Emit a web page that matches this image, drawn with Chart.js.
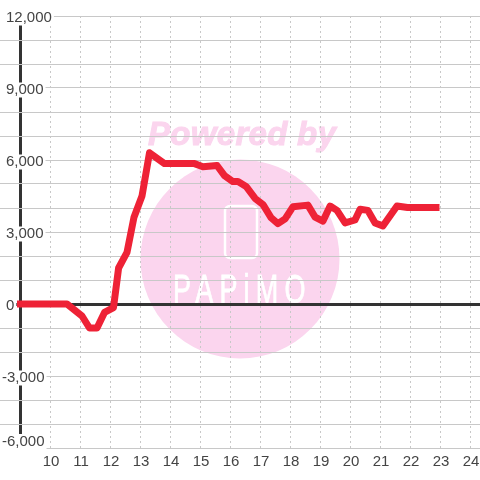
<!DOCTYPE html>
<html>
<head>
<meta charset="utf-8">
<style>html,body{margin:0;padding:0;background:#fff}canvas{display:block}</style>
<script src="https://cdn.jsdelivr.net/npm/chart.js@4"></script>
</head>
<body>
<canvas id="c" width="480" height="480"></canvas>
<script>
const hours = [9,10.55,10.8,11.05,11.3,11.55,11.8,12.1,12.27,12.55,12.78,13.05,13.3,13.8,14.8,15.08,15.55,15.8,16.08,16.25,16.52,16.82,17.08,17.35,17.58,17.82,18.08,18.58,18.82,19.08,19.32,19.55,19.82,20.15,20.32,20.58,20.82,21.08,21.55,21.9,22.85];
const profit = [0,0,-250,-500,-1000,-1000,-350,-150,1500,2150,3600,4500,6300,5850,5850,5720,5770,5350,5100,5100,4900,4400,4150,3600,3350,3550,4050,4120,3620,3450,4080,3900,3380,3500,3950,3900,3380,3250,4080,4020,4020];
const yMin = -6000, yMax = 12000, yStep = 1000, yLabelStep = 3000;
const xMin = 8.3167, xMax = 24.3167, axisHour = 9;
const xTickHours = [10,11,12,13,14,15,16,17,18,19,20,21,22,23,24];
const watermarkTop = 'Powered by', watermarkBrand = 'PAPiMO';

const PINK = '#fbd5ee', GRID = '#c8c8c8', DARK = '#333333', TXT = '#444444';
const FONT = {family:'"Liberation Sans", Arial, sans-serif', size:15, lineHeight:1};

const watermark = {
  id:'watermark',
  beforeDraw(chart){
    const c = chart.ctx;
    c.save();
    c.fillStyle = PINK;
    c.beginPath(); c.arc(240,259,99.5,0,Math.PI*2); c.fill();
    c.font = 'italic bold 33px "Liberation Sans"';
    c.textBaseline = 'alphabetic'; c.textAlign = 'left';
    c.letterSpacing = '0.3px';
    c.lineWidth = 1; c.strokeStyle = PINK;
    c.fillText(watermarkTop,148,145);
    c.strokeText(watermarkTop,148,145);
    c.strokeStyle = '#fff'; c.lineWidth = 2.5;
    c.beginPath(); c.roundRect(225,206,32,52,5); c.stroke();
    c.save();
    c.translate(173,303); c.scale(1,1.5);
    c.font = '27px "Liberation Sans"';
    c.letterSpacing = '6.2px';
    c.fillStyle = '#fff';
    c.strokeStyle = '#fff'; c.lineWidth = 0.5;
    c.fillText(watermarkBrand,0,0);
    c.strokeText(watermarkBrand,0,0);
    c.restore();
    c.restore();
  }
};

const yTickBase = {
  autoSkip:false, mirror:true, font:FONT, color:TXT, labelOffset:2,
  showLabelBackdrop:true, backdropColor:'#fff', z:0
};
const fmt = v => v.toLocaleString('en-US');
const labelAxis = (values, ticks) => ({
  min:yMin, max:yMax, position:'left',
  afterBuildTicks(s){ s.ticks = values.map(v=>({value:v})); },
  afterFit(s){ s.width=0; s.paddingTop=0; s.paddingBottom=0; },
  border:{display:false},
  grid:{display:false,drawTicks:false},
  ticks:{...yTickBase, ...ticks, callback:v=>fmt(v)}
});

new Chart(document.getElementById('c'),{
  type:'line',
  data:{datasets:[{
    data:hours.map((h,i)=>({x:h,y:profit[i]})),
    borderColor:'#ee2236', borderWidth:7, pointRadius:0, tension:0,
    borderCapStyle:'square', borderJoinStyle:'round', fill:false, clip:false
  }]},
  plugins:[watermark],
  options:{
    responsive:false, animation:false, events:[],
    layout:{autoPadding:false,padding:{top:16,right:0,bottom:0,left:0}},
    plugins:{legend:{display:false},tooltip:{enabled:false},title:{display:false}},
    scales:{
      x:{
        type:'linear', min:xMin, max:xMax,
        afterBuildTicks(s){ s.ticks=[axisHour,...xTickHours].map(v=>({value:v})); },
        afterFit(s){ s.height=32; s.paddingLeft=0; s.paddingRight=0; },
        border:{display:false, dash:ctx=>ctx.tick&&ctx.tick.value===axisHour?[]:[2,3]},
        grid:{z:-1, drawTicks:false, color:ctx=>ctx.tick&&ctx.tick.value===axisHour?DARK:GRID,
              lineWidth:ctx=>ctx.tick&&ctx.tick.value===axisHour?3:1},
        ticks:{autoSkip:false,maxRotation:0,font:FONT,color:TXT,padding:6,labelOffset:0.5,
               callback:v=>v===axisHour?'':String(v)}
      },
      y:{
        min:yMin,max:yMax,position:'left',
        afterFit(s){ s.width=0; s.paddingTop=0; s.paddingBottom=0; },
        border:{display:false},
        grid:{z:-1, drawTicks:false, color:ctx=>ctx.tick&&ctx.tick.value===0?DARK:GRID,
              lineWidth:ctx=>ctx.tick&&ctx.tick.value===0?3:1},
        ticks:{...yTickBase,stepSize:yStep,showLabelBackdrop:false,callback:()=>''}
      },
      yPos:labelAxis([0,yLabelStep,2*yLabelStep,3*yLabelStep,yMax],{padding:6,backdropPadding:{left:6,right:2,top:0,bottom:0}}),
      yNeg:labelAxis([-yLabelStep],{padding:2,backdropPadding:{left:2,right:2,top:0,bottom:0}}),
      yEnd:labelAxis([yMin],{padding:2,labelOffset:-6.5,backdropPadding:{left:2,right:2,top:0,bottom:0}})
    }
  }
});
</script>
</body>
</html>
